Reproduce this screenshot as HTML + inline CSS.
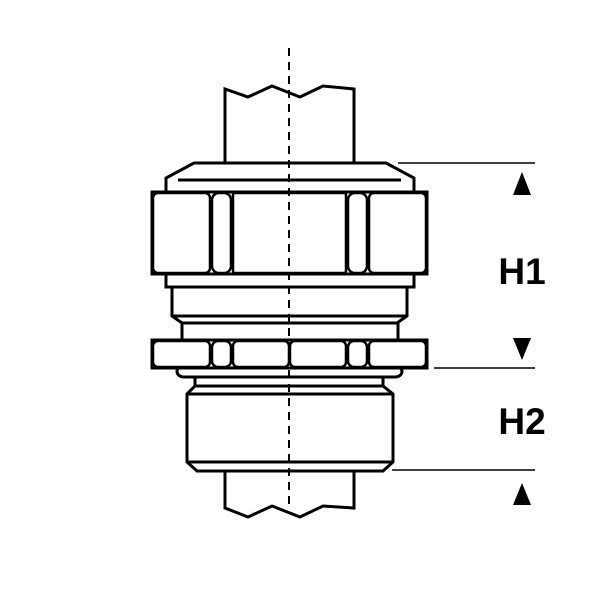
<!DOCTYPE html>
<html><head><style>html,body{margin:0;padding:0;background:#fff}svg{display:block}</style></head><body>
<svg width="600" height="600" viewBox="0 0 600 600" xmlns="http://www.w3.org/2000/svg">
<g fill="#fff" stroke="#000" stroke-width="3" stroke-linejoin="miter">
<polygon points="225,163 225,89 248,97 272,86 300,97 323,86 354,89 354,163"/>
<polygon points="225,471 225,508 248,517 272,506 300,517 323,506 354,508 354,471"/>
<polygon points="194,163 386,163 414,178 414,193 166,193 166,178"/>
<line x1="178" y1="180" x2="401" y2="180"/>
<rect x="166" y="273" width="248" height="14"/>
<polygon points="172,287 407,287 407,316 397,323 182,323 172,316"/>
<line x1="172" y1="316" x2="407" y2="316"/>
<rect x="182" y="323" width="216" height="17"/>
<rect x="195" y="376" width="188" height="10"/>
<polygon points="195,386 383,386 393,394 393,462 383,471 197,471 187,462 187,394"/>
<line x1="187" y1="394" x2="393" y2="394"/>
<line x1="187" y1="462" x2="393" y2="462"/>
<rect x="177" y="366" width="225" height="11" rx="7"/>
<rect x="152" y="192" width="275" height="82"/>
<rect x="152" y="340" width="275" height="28"/>
</g>
<g fill="#fff" stroke="#000" stroke-width="2.5">
<rect x="153" y="193" width="57" height="80" rx="5"/>
<rect x="212" y="193" width="19" height="80" rx="7"/>
<rect x="233" y="193" width="113" height="80" rx="2"/>
<rect x="348" y="193" width="19" height="80" rx="7"/>
<rect x="369" y="193" width="57" height="80" rx="5"/>
<rect x="153" y="341" width="57" height="26" rx="5"/>
<rect x="212" y="341" width="19" height="26" rx="6"/>
<rect x="233" y="341" width="56" height="26" rx="5"/>
<rect x="290" y="341" width="56" height="26" rx="5"/>
<rect x="348" y="341" width="19" height="26" rx="6"/>
<rect x="369" y="341" width="57" height="26" rx="5"/>
</g>
<line x1="289" y1="48" x2="289" y2="505" stroke="#000" stroke-width="2" stroke-dasharray="8,6"/>
<g stroke="#000" stroke-width="1.5">
<line x1="398" y1="163" x2="535" y2="163"/>
<line x1="434" y1="368" x2="535" y2="368"/>
<line x1="392" y1="470" x2="535" y2="470"/>
</g>
<g fill="#000">
<polygon points="522,172 513,195 531,195"/>
<polygon points="513,338 531,338 522,360"/>
<polygon points="522,483 513,505 531,505"/>
<text x="522" y="284" font-family="Liberation Sans, sans-serif" font-weight="bold" font-size="37" text-anchor="middle">H1</text>
<text x="522" y="434" font-family="Liberation Sans, sans-serif" font-weight="bold" font-size="37" text-anchor="middle">H2</text>
</g>
</svg>
</body></html>
